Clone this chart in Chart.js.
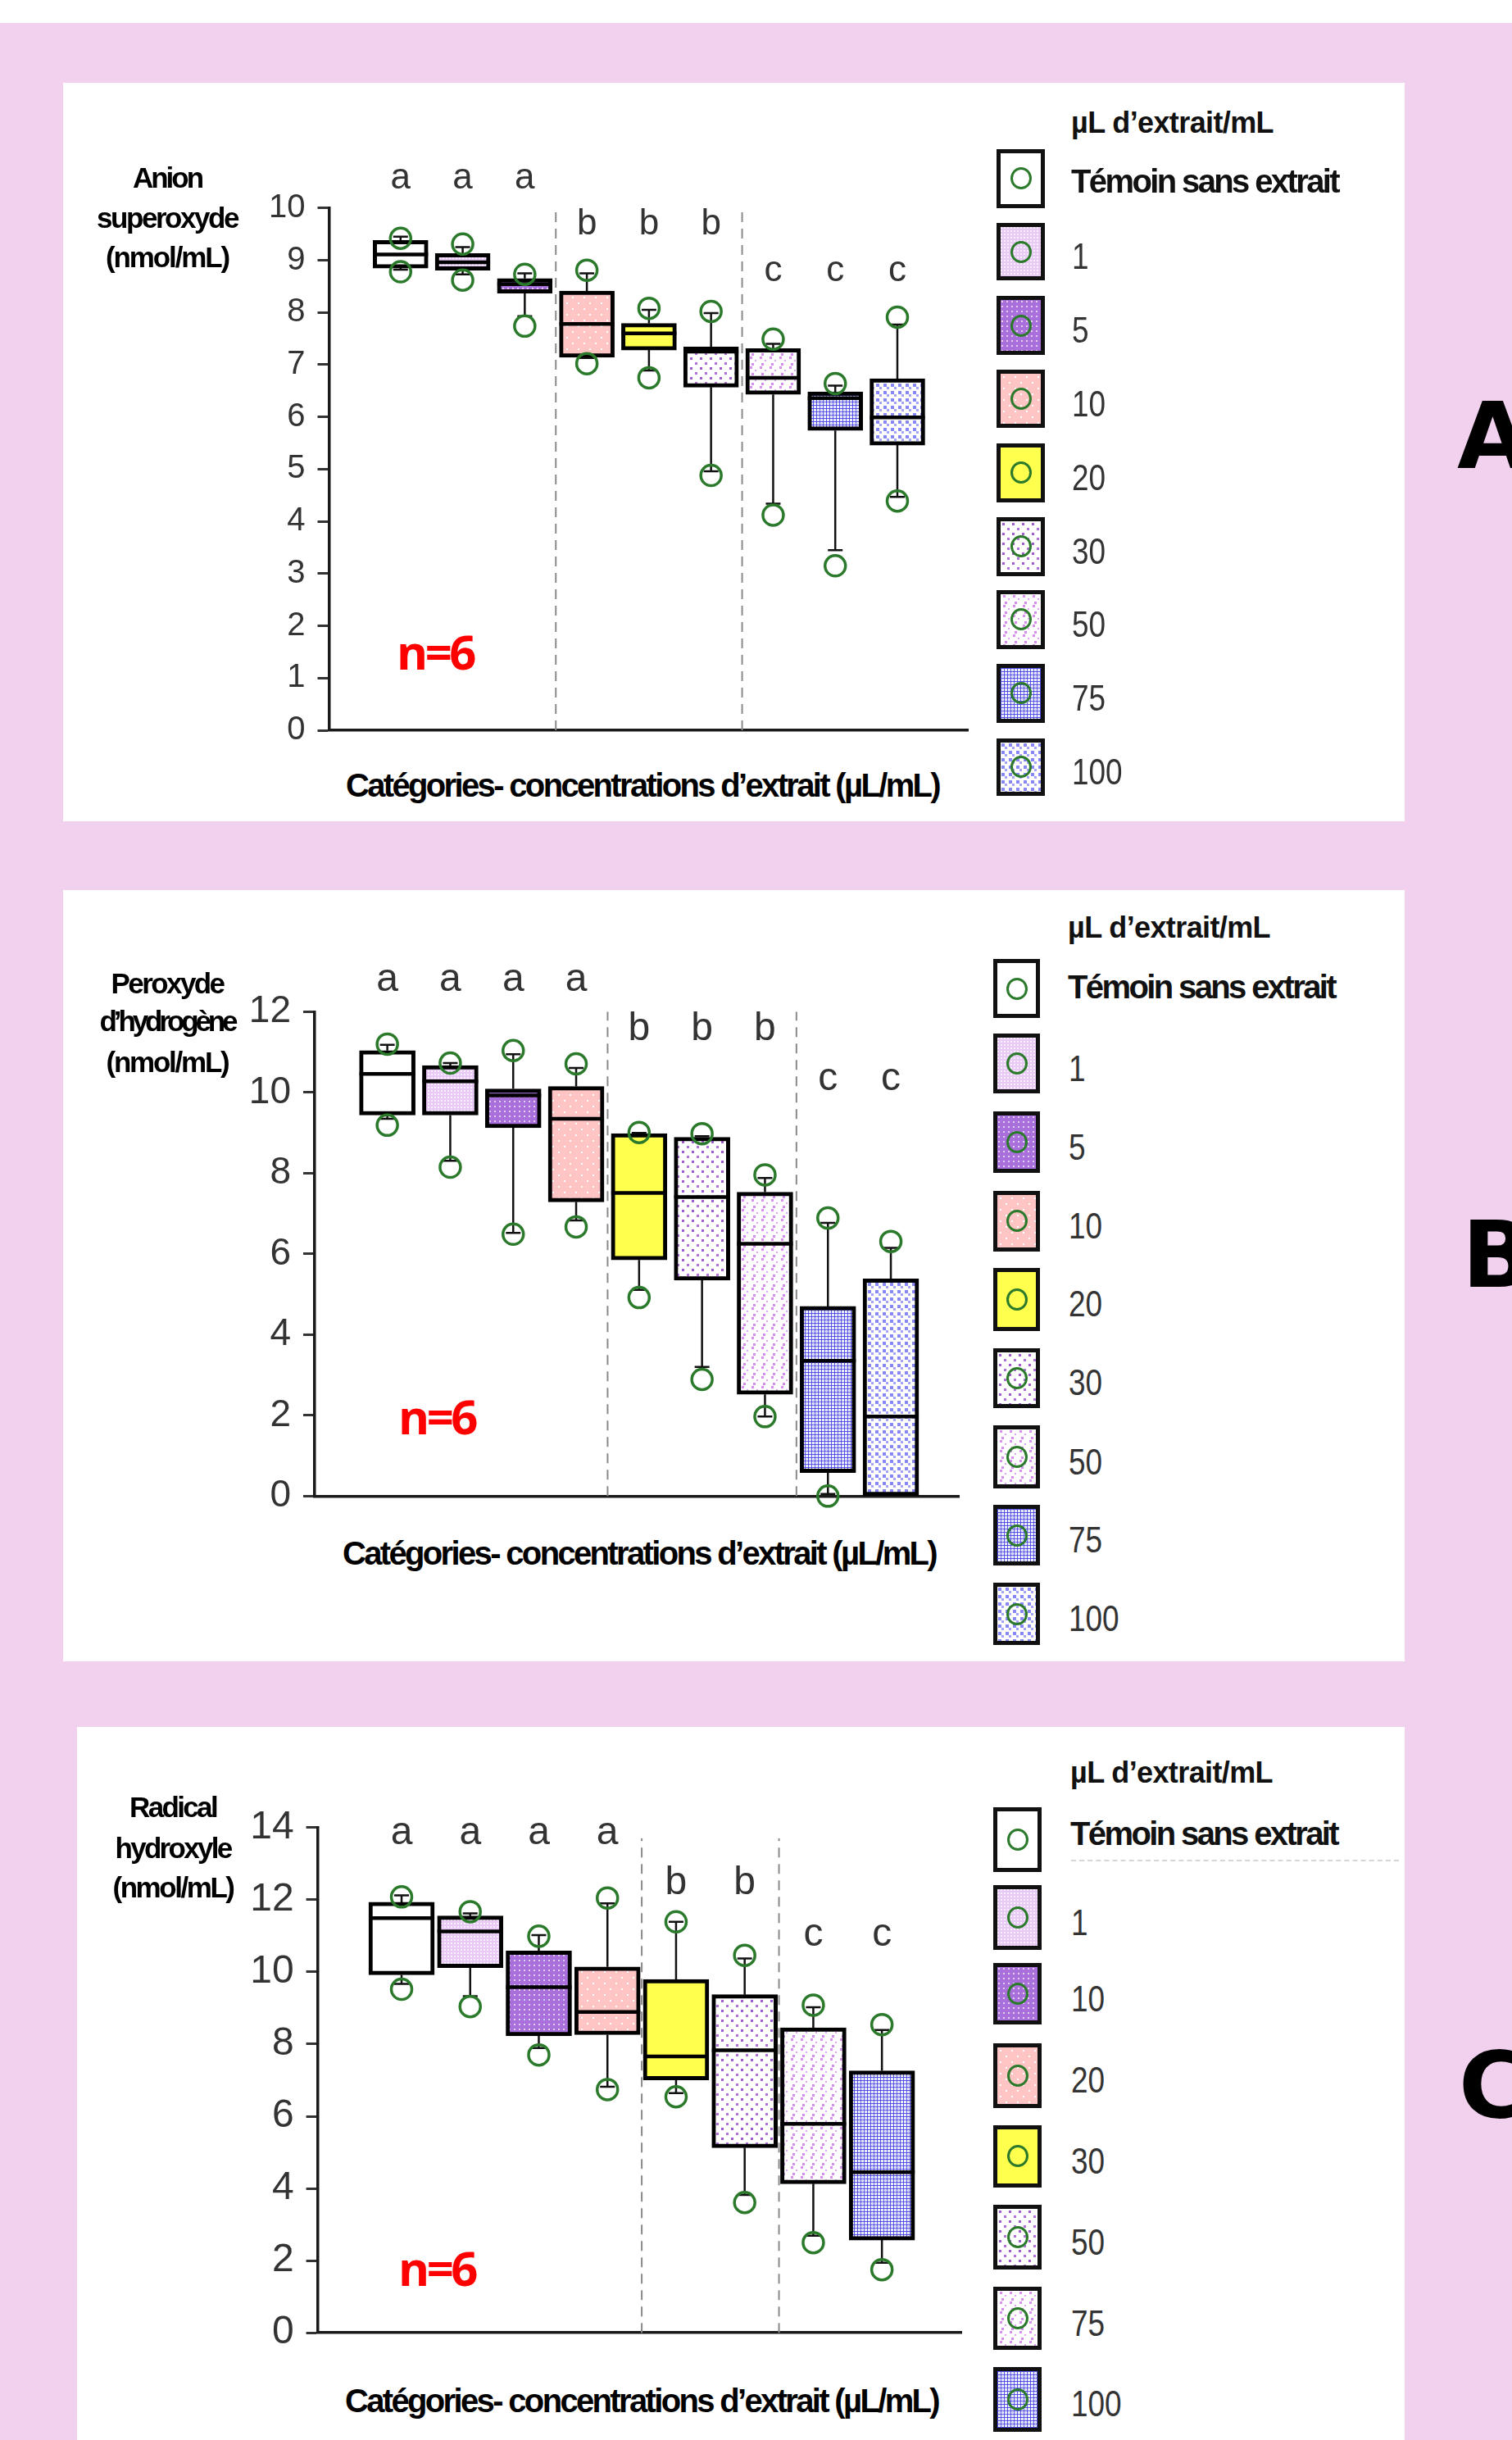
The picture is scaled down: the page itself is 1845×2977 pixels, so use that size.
<!DOCTYPE html>
<html lang="fr">
<head>
<meta charset="utf-8">
<title>Anion superoxyde, peroxyde d'hydrogène, radical hydroxyle</title>
<script src="https://cdn.jsdelivr.net/npm/chart.js@4.4.1/dist/chart.umd.min.js"></script>
<style>
  html, body { margin: 0; padding: 0; }
  body { width: 1845px; height: 2977px; position: relative; overflow: hidden; background: #f1d1ee;
         font-family: 'Liberation Sans', Arial, sans-serif; }
  .strip { position: absolute; left: 0; top: 0; width: 1845px; height: 28px; background: #fff; }
  .panel { position: absolute; background: #fff; }
  .t { position: absolute; white-space: nowrap; line-height: 1; }
  .ytitle { font-weight: bold; color: #000; font-size: 35px; }
  .xtitle { font-weight: bold; color: #000; font-size: 40px; }
  .n6 { font-family: 'Open Sans', Lato, sans-serif; font-weight: bold; color: #f00; font-size: 58px; }
  .big { font-family: 'DejaVu Sans', sans-serif; font-weight: bold; font-size: 112px; color: #000; }
  .lgtitle { font-weight: bold; font-size: 36px; color: #111; }
  .lgtem { font-weight: bold; font-size: 40px; color: #111; }
  .lgnum { font-size: 44px; color: #333; transform-origin: 0 50%; transform: scaleX(0.84); }
  .sw { position: absolute; box-sizing: border-box; border: 5px solid #111; }
  .sw i { position: absolute; left: 50%; top: 50%; width: 26px; height: 27px; margin: -13.5px 0 0 -13px;
          box-sizing: border-box; border: 3.5px solid #2b7a2b; border-radius: 50%; }
  .dash { position: absolute; border-top: 2px dashed #d6d6d6; }
  canvas { position: absolute; }
</style>
</head>
<body>
<div class="strip"></div>
<script>
// ---------- data ----------
const xTitle = 'Catégories- concentrations d’extrait (µL/mL)';
const legendTitle = 'µL d’extrait/mL';

// A : anion superoxyde
const catsA = ['Témoin sans extrait', '1', '5', '10', '20', '30', '50', '75', '100'];
const q1A   = [8.85, 8.81, 8.37, 7.14, 7.28, 6.57, 6.43, 5.74, 5.46];
const medA  = [9.11, 8.96, 8.54, 7.78, 7.60, 7.25, 6.75, 6.36, 5.99];
const q3A   = [9.38, 9.13, 8.65, 8.41, 7.79, 7.34, 7.31, 6.48, 6.73];
const whLoA = [8.82, 8.73, 7.93, 7.13, 6.89, 4.96, 4.34, 3.45, 4.47];
const whHiA = [9.45, 9.25, 8.75, 8.75, 8.05, 7.99, 7.40, 6.60, 7.77];
const ptLoA = [8.78, 8.62, 7.74, 7.02, 6.75, 4.88, 4.12, 3.15, 4.39];
const ptHiA = [9.42, 9.31, 8.73, 8.81, 8.08, 8.02, 7.49, 6.64, 7.91];
const lettersA = ['a', 'a', 'a', 'b', 'b', 'b', 'c', 'c', 'c'];
const yTitleA = ['Anion', 'superoxyde', '(nmol/mL)'];

// B : peroxyde d'hydrogène
const catsB = ['Témoin sans extrait', '1', '5', '10', '20', '30', '50', '75', '100'];
const q1B   = [9.44, 9.44, 9.13, 7.29, 5.85, 5.35, 2.52, 0.58, 0];
const medB  = [10.46, 10.28, 9.93, 9.35, 7.51, 7.41, 6.25, 3.35, 1.97];
const q3B   = [11.04, 10.67, 10.09, 10.15, 8.98, 8.89, 7.53, 4.70, 5.38];
const whLoB = [9.35, 8.31, 6.52, 6.83, 5.11, 3.20, 1.97, 0.05, 0];
const whHiB = [11.18, 10.73, 10.95, 10.61, 9.00, 8.92, 7.88, 6.77, 6.15];
const ptLoB = [9.19, 8.15, 6.49, 6.67, 4.92, 2.89, 1.97, 0.0, null];
const ptHiB = [11.20, 10.73, 11.04, 10.71, 9.01, 8.98, 7.96, 6.89, 6.31];
const lettersB = ['a', 'a', 'a', 'a', 'b', 'b', 'b', 'c', 'c'];
const yTitleB = ['Peroxyde', 'd’hydrogène', '(nmol/mL)'];

// C : radical hydroxyle
const catsC = ['Témoin sans extrait', '1', '10', '20', '30', '50', '75', '100'];
const q1C   = [9.92, 10.12, 8.23, 8.26, 7.01, 5.13, 4.13, 2.57];
const medC  = [11.49, 11.12, 9.58, 8.89, 7.66, 7.83, 5.79, 4.45];
const q3C   = [11.93, 11.55, 10.58, 10.14, 9.79, 9.37, 8.45, 7.26];
const whLoC = [9.67, 9.33, 7.89, 6.82, 6.64, 3.82, 2.69, 1.94];
const whHiC = [12.12, 11.62, 11.02, 11.90, 11.39, 10.37, 9.02, 8.39];
const ptLoC = [9.52, 9.04, 7.70, 6.74, 6.54, 3.61, 2.50, 1.75];
const ptHiC = [12.08, 11.67, 10.99, 12.05, 11.39, 10.46, 9.08, 8.54];
const lettersC = ['a', 'a', 'a', 'a', 'b', 'b', 'c', 'c'];
const yTitleC = ['Radical', 'hydroxyle', '(nmol/mL)'];

// ---------- fills ----------
function tile(kind) {
  const c = document.createElement('canvas');
  const g = c.getContext('2d');
  const bg = (s, col) => { c.width = c.height = s; g.fillStyle = col; g.fillRect(0, 0, s, s); };
  const dot = (x, y, s, col) => { g.fillStyle = col; g.fillRect(x, y, s, s); };
  switch (kind) {
    case 'lav': bg(4, '#e9c9f6'); dot(0, 0, 2, '#faf1fe'); break;
    case 'purple': bg(6, '#a96fdb'); dot(1, 1, 2, '#e2cdf5'); break;
    case 'pink': bg(14, '#ffc4c4'); dot(3, 3, 2, '#fff'); dot(10, 10, 2, '#fff'); break;
    case 'yellow': bg(4, '#ffff4d'); break;
    case 'pdot': bg(12, '#fff'); dot(2, 2, 3, '#a05bcf'); dot(8, 8, 3, '#b072d8'); break;
    case 'vdot': bg(12, '#fff'); dot(3, 1, 3, '#d990f1'); dot(9, 5, 2, '#e0a2f4'); dot(5, 9, 3, '#d48cee'); break;
    case 'bgrid': bg(4, '#fff'); dot(0, 0, 4, '#4c4ce6'); g.fillStyle = '#fff'; g.fillRect(1, 1, 3, 3);
                  dot(2, 2, 1, '#b2b2f5'); break;
    case 'bdot': bg(9, '#fff'); dot(1, 1, 4, '#8787f5'); dot(5, 5, 3, '#a3a3f8'); break;
    default: bg(4, '#fff');
  }
  return c;
}
const tiles = {};
const pctx = document.createElement('canvas').getContext('2d');
function fill(kind) {
  if (!tiles[kind]) tiles[kind] = tile(kind);
  return pctx.createPattern(tiles[kind], 'repeat');
}

// ---------- html helpers ----------
function box(cls, x, y, w, h) {
  const d = document.createElement('div');
  d.className = cls;
  Object.assign(d.style, { left: x + 'px', top: y + 'px', width: w + 'px', height: h + 'px' });
  document.body.appendChild(d);
  return d;
}
function txt(text, cls, x, yc, opt = {}) {
  const s = document.createElement('span');
  s.className = 't ' + cls;
  s.textContent = text;
  document.body.appendChild(s);
  const fs = parseFloat(getComputedStyle(s).fontSize);
  s.style.top = (yc - fs * 0.5) + 'px';
  if (opt.width) {
    const w = s.getBoundingClientRect().width;
    s.style.letterSpacing = ((opt.width - w) / text.length) + 'px';
  }
  const w2 = s.getBoundingClientRect().width;
  s.style.left = (opt.center ? x - w2 / 2 : x) + 'px';
  return s;
}

// ---------- box plot drawing through the chart scales ----------
function boxPlugin(p) {
  return {
    id: 'boxes' + p.key,
    beforeDatasetsDraw(chart) {
      const { ctx, scales: { x, y } } = chart;
      ctx.save();
      // dashed separators between groups
      ctx.strokeStyle = '#8a8a8a'; ctx.lineWidth = 2; ctx.setLineDash([12, 8]);
      p.seps.forEach(s => {
        ctx.beginPath();
        ctx.moveTo(x.getPixelForValue(s), y.getPixelForValue(0));
        ctx.lineTo(x.getPixelForValue(s), y.getPixelForValue(p.sepTop));
        ctx.stroke();
      });
      // whiskers
      ctx.setLineDash([]); ctx.strokeStyle = '#111'; ctx.lineWidth = 2.5;
      p.q1.forEach((v, i) => {
        const px = x.getPixelForValue(i);
        [[p.q3[i], p.whHi[i]], [v, p.whLo[i]]].forEach(([a, b]) => {
          if (a === b) return;
          ctx.beginPath();
          ctx.moveTo(px, y.getPixelForValue(a)); ctx.lineTo(px, y.getPixelForValue(b));
          ctx.moveTo(px - 9, y.getPixelForValue(b)); ctx.lineTo(px + 9, y.getPixelForValue(b));
          ctx.stroke();
        });
      });
      ctx.restore();
    },
    afterDatasetDraw(chart, args) {
      if (args.index !== 0) return;
      const { ctx, scales: { y } } = chart;
      const bars = chart.getDatasetMeta(0).data;
      ctx.save();
      ctx.strokeStyle = '#000'; ctx.lineWidth = 4.5;
      p.med.forEach((m, i) => {
        const b = bars[i], py = y.getPixelForValue(m);
        ctx.beginPath(); ctx.moveTo(b.x - b.width / 2, py); ctx.lineTo(b.x + b.width / 2, py); ctx.stroke();
      });
      ctx.restore();
    },
    afterDraw(chart) {
      const { ctx, scales: { x, y } } = chart;
      ctx.save();
      ctx.fillStyle = '#333';
      ctx.font = p.letterSize + "px 'Liberation Sans Narrow', 'Liberation Sans', Arial";
      ctx.textAlign = 'center'; ctx.textBaseline = 'alphabetic';
      p.letters.forEach((l, i) => ctx.fillText(l, x.getPixelForValue(i), y.getPixelForValue(p.letterBase[l])));
      ctx.restore();
    }
  };
}

function drawPanel(p) {
  box('panel', p.panel[0], p.panel[1], p.panel[2] - p.panel[0], p.panel[3] - p.panel[1]);
  const cv = document.createElement('canvas');
  cv.width = p.canvas.w; cv.height = p.canvas.h;
  cv.style.left = p.canvas.x + 'px'; cv.style.top = p.canvas.y + 'px';
  document.body.appendChild(cv);

  const boxes = p.q1.map((v, i) => ({ x: i, y: [v, p.q3[i]] }));
  const pts = [];
  p.ptLo.forEach((v, i) => { if (v !== null) pts.push({ x: i, y: v }); });
  p.ptHi.forEach((v, i) => { if (v !== null) pts.push({ x: i, y: v }); });

  new Chart(cv, {
    type: 'bar',
    data: {
      datasets: [
        { type: 'bar', data: boxes, order: 1, backgroundColor: p.fills.map(fill),
          borderColor: '#000', borderWidth: 5, borderSkipped: false, barThickness: p.barW },
        { type: 'scatter', data: pts, order: 0, clip: false, pointStyle: 'circle', pointRadius: 12.5,
          borderColor: '#2b7a2b', borderWidth: 3.5, backgroundColor: 'rgba(0,0,0,0)' }
      ]
    },
    options: {
      responsive: false, animation: false,
      layout: { padding: {
        left: 0,
        top: p.area.t - p.canvas.y,
        right: p.canvas.x + p.canvas.w - p.area.r,
        bottom: p.canvas.y + p.canvas.h - p.area.b } },
      plugins: { legend: { display: false }, tooltip: { enabled: false } },
      scales: {
        x: { type: 'linear', min: p.xmin, max: p.xmax, offset: false,
             ticks: { display: false }, grid: { display: false },
             border: { display: true, color: '#1a1a1a', width: 3.5 },
             afterFit: s => { s.height = 0; } },
        y: { min: 0, max: p.ymax,
             ticks: { stepSize: 1, color: '#333', padding: 15,
                      font: { family: "'Liberation Sans Narrow', 'Liberation Sans', Arial", size: p.tickSize },
                      callback: v => (v % p.labelEvery === 0 ? v : '') },
             grid: { drawOnChartArea: false, tickLength: 14, tickWidth: 3, tickColor: '#333' },
             border: { display: true, color: '#1a1a1a', width: 3.5 },
             afterFit: s => { s.width = p.area.l - p.canvas.x; } }
      }
    },
    plugins: [boxPlugin(p)]
  });

  // axis titles and notes
  p.yTitle.forEach((line, k) => txt(line, 'ytitle', p.yTitlePos.x, p.yTitlePos.ys[k], { center: true, width: p.yTitlePos.ws[k] }));
  txt(xTitle, 'xtitle', p.xTitlePos[0], p.xTitlePos[1], { center: true, width: 724 });
  txt('n=6', 'n6', p.nPos[0], p.nPos[1], { width: 94 });
  txt(p.key, 'big', p.bigPos[0], p.bigPos[1]);

  // legend
  const lg = p.legend;
  txt(legendTitle, 'lgtitle', lg.textX, lg.titleY, { width: 247 });
  p.cats.forEach((c, i) => {
    const [top, bot] = lg.rows[i];
    const sw = box('sw', lg.x, top, lg.w, bot - top);
    sw.style.backgroundImage = 'url(' + tile(p.fills[i]).toDataURL() + ')';
    sw.appendChild(document.createElement('i'));
    if (i === 0) txt(c, 'lgtem', lg.textX, lg.temY, { width: 326 });
    else txt(c, 'lgnum', lg.textX + 1, (top + bot) / 2 + 6);
  });
  if (lg.dash) box('dash', lg.dash[0], lg.dash[1], lg.dash[2], 0);
}

// ---------- layout ----------
drawPanel({
  key: 'A', cats: catsA, q1: q1A, med: medA, q3: q3A, whLo: whLoA, whHi: whHiA, ptLo: ptLoA, ptHi: ptHiA,
  letters: lettersA, yTitle: yTitleA,
  fills: ['white', 'lav', 'purple', 'pink', 'yellow', 'pdot', 'vdot', 'bgrid', 'bdot'],
  panel: [77, 101, 1714, 1002],
  canvas: { x: 240, y: 170, w: 980, h: 760 },
  area: { l: 401.5, t: 253.8, r: 1181, b: 897.8 },
  xmin: -1.152, xmax: 9.135, ymax: 10, labelEvery: 1, tickSize: 40, barW: 67,
  seps: [2.5, 5.5], sepTop: 10, letterSize: 44, letterBase: { a: 10.38, b: 9.49, c: 8.6 },
  yTitlePos: { x: 204, ys: [216.5, 265, 313.5], ws: [84, 172, 150] },
  xTitlePos: [784, 958], nPos: [484, 795], bigPos: [1778, 532],
  legend: { x: 1216, w: 59, textX: 1307, titleY: 150, temY: 220.5,
    rows: [[181.5, 253.8], [272.2, 342.2], [361.2, 432.9], [451.3, 521.9], [540.8, 612.6],
           [630.9, 702.7], [719.9, 791.7], [810, 881.8], [900.7, 970.8]] }
});

drawPanel({
  key: 'B', cats: catsB, q1: q1B, med: medB, q3: q3B, whLo: whLoB, whHi: whHiB, ptLo: ptLoB, ptHi: ptHiB,
  letters: lettersB, yTitle: yTitleB,
  fills: ['white', 'lav', 'purple', 'pink', 'yellow', 'pdot', 'vdot', 'bgrid', 'bdot'],
  panel: [77, 1086, 1714, 2027],
  canvas: { x: 230, y: 1150, w: 980, h: 720 },
  area: { l: 384, t: 1234.5, r: 1170, b: 1825.3 },
  xmin: -1.154, xmax: 9.08, ymax: 12, labelEvery: 2, tickSize: 46, barW: 68,
  seps: [3.5, 6.5], sepTop: 12, letterSize: 48, letterBase: { a: 12.52, b: 11.3, c: 10.06 },
  yTitlePos: { x: 204, ys: [1199, 1245, 1295], ws: [137, 165, 149] },
  xTitlePos: [780, 1895], nPos: [486, 1728], bigPos: [1784, 1531],
  legend: { x: 1212, w: 57, textX: 1303, titleY: 1131.5, temY: 1204,
    rows: [[1169.7, 1242.4], [1260.6, 1334.5], [1355.7, 1431.5], [1452.7, 1526.6], [1546.6, 1624.2],
           [1644.8, 1718.1], [1739.3, 1816.3], [1836.3, 1910.2], [1931.4, 2007.2]] }
});

drawPanel({
  key: 'C', cats: catsC, q1: q1C, med: medC, q3: q3C, whLo: whLoC, whHi: whHiC, ptLo: ptLoC, ptHi: ptHiC,
  letters: lettersC, yTitle: yTitleC,
  fills: ['white', 'lav', 'purple', 'pink', 'yellow', 'pdot', 'vdot', 'bgrid'],
  panel: [94, 2107, 1714, 2977],
  canvas: { x: 230, y: 2150, w: 980, h: 740 },
  area: { l: 387.6, t: 2229.8, r: 1173.8, b: 2855 },
  xmin: -1.223, xmax: 8.166, ymax: 14, labelEvery: 2, tickSize: 48, barW: 80,
  seps: [3.5, 5.5], sepTop: 13.7, letterSize: 48, letterBase: { a: 13.55, b: 12.15, c: 10.73 },
  yTitlePos: { x: 211, ys: [2204, 2254, 2302], ws: [106, 141, 147] },
  xTitlePos: [783, 2929], nPos: [486, 2767], bigPos: [1780, 2544],
  legend: { x: 1212, w: 59, textX: 1306, titleY: 2162.6, temY: 2237, dash: [1307, 2269, 400],
    rows: [[2205.3, 2284.4], [2300.2, 2379.2], [2395.1, 2470.4], [2492.6, 2571.6], [2592.7, 2669.1],
           [2690.2, 2769.2], [2790.3, 2866.7], [2887.8, 2966.9]] }
});
</script>
</body>
</html>
